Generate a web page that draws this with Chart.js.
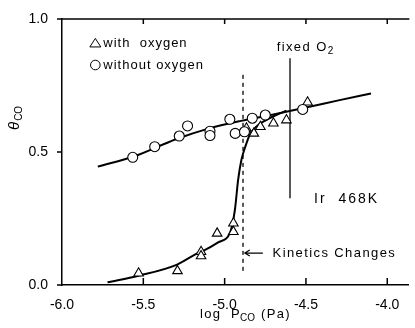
<!DOCTYPE html>
<html>
<head>
<meta charset="utf-8">
<script src="https://cdn.jsdelivr.net/npm/chart.js@4.4.1/dist/chart.umd.min.js"></script>
<style>
  html, body { margin: 0; padding: 0; background: #fff; }
  #wrap { width: 415px; height: 328px; }
</style>
</head>
<body>
<div id="wrap"><canvas id="theta-chart" width="415" height="328"></canvas></div>
<script>
'use strict';

// --- data ---
const xTickVals = [-6.0, -5.5, -5.0, -4.5, -4.0];
const xTickLabels = ['-6.0', '-5.5', '-5.0', '-4.5', '-4.0'];
const yTickVals = [0.0, 0.5, 1.0];
const yTickLabels = ['0.0', '0.5', '1.0'];

// without oxygen (circles)
const noOxX = [-5.565, -5.43, -5.279, -5.228, -5.09, -5.09, -4.968, -4.935, -4.878, -4.83, -4.75, -4.52];
const noOxY = [0.48, 0.52, 0.56, 0.598, 0.578, 0.562, 0.623, 0.570, 0.576, 0.627, 0.639, 0.66];

// with oxygen (triangles)
const withOxX = [-5.529, -5.29, -5.145, -5.145, -5.046, -4.946, -4.946, -4.866, -4.82, -4.78, -4.70, -4.62, -4.49];
const withOxY = [0.044, 0.053, 0.125, 0.109, 0.194, 0.232, 0.20, 0.589, 0.570, 0.595, 0.608, 0.62, 0.687];

// fitted curves
const fitNoOxX = [-5.78, -5.55, -5.3, -5.1, -4.9, -4.7, -4.5, -4.3, -4.1];
const fitNoOxY = [0.445, 0.485, 0.548, 0.588, 0.617, 0.641, 0.667, 0.694, 0.72];

const fitWithOxX = [-5.72, -5.53, -5.30, -5.166, -5.126, -5.04, -4.965, -4.937, -4.917, -4.897, -4.876, -4.846, -4.806, -4.745, -4.68, -4.62];
const fitWithOxY = [0.01, 0.035, 0.075, 0.12, 0.13, 0.16, 0.2, 0.282, 0.395, 0.47, 0.514, 0.564, 0.595, 0.62, 0.64, 0.655];

// reference lines
const fixedO2X = [-4.598, -4.598];
const fixedO2Y = [0.852, 0.326];
const kineticsX = [-4.887, -4.887];
const kineticsY = [0.79, 0.04];

const FONT = "'Liberation Sans', Arial, sans-serif";

function pts(xs, ys) {
    return xs.map((x, i) => ({ x: x, y: ys[i] }));
}

// axes frame, inward ticks, labels and subscripts
const annotations = {
    id: 'annotations',
    afterDraw(chart) {
        const ctx = chart.ctx;
        const xs = chart.scales.x;
        const ys = chart.scales.y;
        const a = chart.chartArea;
        ctx.save();
        ctx.strokeStyle = '#000';
        ctx.fillStyle = '#000';
        ctx.lineWidth = 1.5;

        // top border
        ctx.beginPath();
        ctx.moveTo(a.left, a.top);
        ctx.lineTo(a.right + 1, a.top);
        ctx.stroke();

        // x ticks (bottom inward, top inward)
        xTickVals.forEach(v => {
            const px = xs.getPixelForValue(v);
            if (v > -6) {
                ctx.beginPath();
                ctx.moveTo(px, a.bottom);
                ctx.lineTo(px, a.bottom - 7);
                ctx.stroke();
                ctx.beginPath();
                ctx.moveTo(px, a.top);
                ctx.lineTo(px, a.top + 5);
                ctx.stroke();
            }
        });
        // y ticks (outward)
        yTickVals.forEach(v => {
            const py = ys.getPixelForValue(v);
            ctx.beginPath();
            ctx.moveTo(a.left - 5, py);
            ctx.lineTo(a.left, py);
            ctx.stroke();
        });

        // legend
        ctx.lineWidth = 1;
        const lx = xs.getPixelForValue(-5.795);
        const ly1 = ys.getPixelForValue(0.91);
        const ly2 = ys.getPixelForValue(0.827);
        ctx.beginPath();
        ctx.moveTo(lx, ly1 - 4.5);
        ctx.lineTo(lx + 5.5, ly1 + 4);
        ctx.lineTo(lx - 5.5, ly1 + 4);
        ctx.closePath();
        ctx.stroke();
        ctx.beginPath();
        ctx.arc(lx, ly2, 4.8, 0, Math.PI * 2);
        ctx.stroke();

        ctx.font = '13px ' + FONT;
        ctx.letterSpacing = '1px';
        ctx.textBaseline = 'middle';
        ctx.textAlign = 'left';
        ctx.fillText('with  oxygen', lx + 8, ly1);
        ctx.fillText('without oxygen', lx + 8, ly2);

        // fixed O2
        ctx.letterSpacing = '1.4px';
        let tx = xs.getPixelForValue(-4.68);
        let ty = ys.getPixelForValue(0.895);
        ctx.fillText('fixed O', tx, ty);
        let w = ctx.measureText('fixed O').width;
        ctx.font = '10px ' + FONT;
        ctx.fillText('2', tx + w, ty + 4);

        // Ir 468K
        ctx.font = '14px ' + FONT;
        ctx.letterSpacing = '2px';
        ctx.fillText('Ir  468K', xs.getPixelForValue(-4.45), ys.getPixelForValue(0.323));

        // Kinetics Changes with arrow
        ctx.font = '13px ' + FONT;
        ctx.letterSpacing = '1.4px';
        const ky = ys.getPixelForValue(0.12);
        ctx.fillText('Kinetics Changes', xs.getPixelForValue(-4.705), ky);
        const ax0 = xs.getPixelForValue(-4.765);
        const ax1 = xs.getPixelForValue(-4.876);
        ctx.lineWidth = 1.2;
        ctx.beginPath();
        ctx.moveTo(ax0, ky);
        ctx.lineTo(ax1, ky);
        ctx.moveTo(ax1 + 5, ky - 3);
        ctx.lineTo(ax1, ky);
        ctx.lineTo(ax1 + 5, ky + 3);
        ctx.stroke();

        // x axis title: log P_CO (Pa)
        ctx.font = '13px ' + FONT;
        ctx.letterSpacing = '1.3px';
        ctx.textBaseline = 'alphabetic';
        let x0 = 200, y0 = 318;
        ctx.fillText('log  P', x0, y0);
        x0 += ctx.measureText('log  P').width;
        ctx.font = '10px ' + FONT;
        ctx.letterSpacing = '0px';
        ctx.fillText('CO', x0 - 1, y0 + 3);
        x0 += ctx.measureText('CO').width + 5;
        ctx.font = '13px ' + FONT;
        ctx.letterSpacing = '1.3px';
        ctx.fillText('(Pa)', x0, y0);

        // y axis title: theta_CO (rotated)
        ctx.translate(19, 130);
        ctx.rotate(-Math.PI / 2);
        ctx.letterSpacing = '0px';
        ctx.font = 'italic 15px ' + FONT;
        ctx.fillText('\u03B8', 0, 0);
        const tw = ctx.measureText('\u03B8').width;
        ctx.font = '10px ' + FONT;
        ctx.fillText('CO', tw + 1, 3);

        ctx.restore();
    }
};

function createThetaChart() {
    const ctx = document.getElementById('theta-chart').getContext('2d');
    const black = '#000';

    new Chart(ctx, {
        type: 'scatter',
        data: {
            datasets: [
                {
                    label: 'without oxygen',
                    data: pts(noOxX, noOxY),
                    pointStyle: 'circle',
                    pointRadius: 5,
                    backgroundColor: '#fff',
                    borderColor: black,
                    borderWidth: 1.1
                },
                {
                    label: 'with oxygen',
                    data: pts(withOxX, withOxY),
                    pointStyle: 'triangle',
                    pointRadius: 5.5,
                    backgroundColor: '#fff',
                    borderColor: black,
                    borderWidth: 1.1
                },
                {
                    label: 'fit without oxygen',
                    data: pts(fitNoOxX, fitNoOxY),
                    showLine: true,
                    pointRadius: 0,
                    borderColor: black,
                    borderWidth: 2,
                    cubicInterpolationMode: 'monotone'
                },
                {
                    label: 'fit with oxygen',
                    data: pts(fitWithOxX, fitWithOxY),
                    showLine: true,
                    pointRadius: 0,
                    borderColor: black,
                    borderWidth: 2,
                    cubicInterpolationMode: 'monotone'
                },
                {
                    label: 'fixed O2',
                    data: pts(fixedO2X, fixedO2Y),
                    showLine: true,
                    pointRadius: 0,
                    borderColor: black,
                    borderWidth: 1.3
                },
                {
                    label: 'Kinetics Changes',
                    data: pts(kineticsX, kineticsY),
                    showLine: true,
                    pointRadius: 0,
                    borderColor: black,
                    borderWidth: 1.3,
                    borderDash: [4, 4]
                }
            ]
        },
        options: {
            responsive: false,
            animation: false,
            layout: { padding: { left: 0, right: 1, top: 19, bottom: 0 } },
            plugins: {
                legend: { display: false },
                tooltip: { enabled: false }
            },
            scales: {
                x: {
                    type: 'linear',
                    min: -6.0,
                    max: -3.87,
                    grid: { display: false },
                    border: { display: true, color: black, width: 1.5 },
                    afterBuildTicks: (scale) => {
                        scale.ticks = xTickVals.map(v => ({ value: v }));
                    },
                    afterFit: (scale) => { scale.height = 43; },
                    ticks: {
                        color: black,
                        padding: 4,
                        maxRotation: 0,
                        font: { family: FONT, size: 14 },
                        callback: (v) => xTickLabels[xTickVals.indexOf(v)]
                    }
                },
                y: {
                    type: 'linear',
                    min: 0,
                    max: 1,
                    grid: { display: false },
                    border: { display: true, color: black, width: 1.5 },
                    afterBuildTicks: (scale) => {
                        scale.ticks = yTickVals.map(v => ({ value: v }));
                    },
                    afterFit: (scale) => { scale.width = 62; },
                    ticks: {
                        color: black,
                        padding: 6,
                        font: { family: FONT, size: 14 },
                        callback: (v) => yTickLabels[yTickVals.indexOf(v)]
                    }
                }
            }
        },
        plugins: [annotations]
    });
}

createThetaChart();
</script>
</body>
</html>
